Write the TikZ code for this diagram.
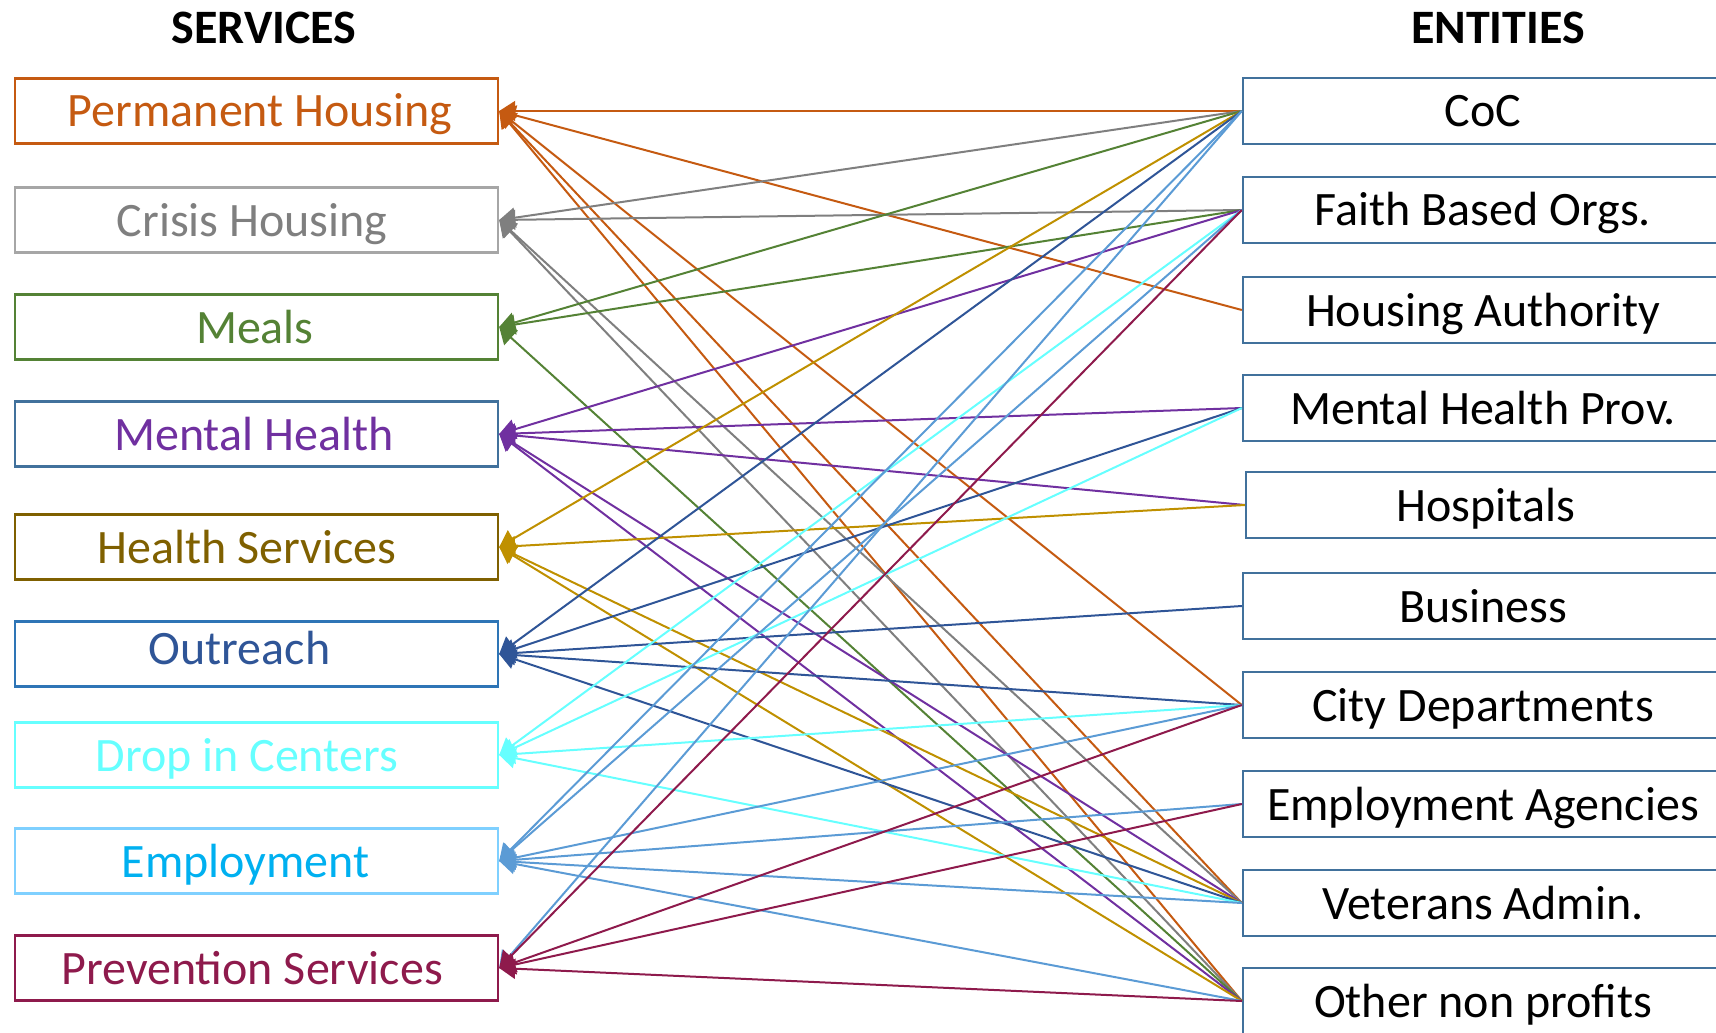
\documentclass[tikz,border=0pt]{standalone}
\usepackage{fontspec}
\setmainfont{Carlito}
\usetikzlibrary{arrows.meta}

\definecolor{phorange}{HTML}{C55A11}
\definecolor{chgray}{HTML}{7F7F7F}
\definecolor{chborder}{HTML}{A6A6A6}
\definecolor{mealgreen}{HTML}{548235}
\definecolor{mhpurple}{HTML}{7030A0}
\definecolor{mhborder}{HTML}{41719C}
\definecolor{hsbrown}{HTML}{7F6000}
\definecolor{hsgold}{HTML}{BF9000}
\definecolor{orblue}{HTML}{2F5597}
\definecolor{orborder}{HTML}{2E75B6}
\definecolor{dropcyan}{HTML}{66FFFF}
\definecolor{emptext}{HTML}{00B0F0}
\definecolor{empborder}{HTML}{7FD0FF}
\definecolor{empline}{HTML}{5B9BD5}
\definecolor{prevred}{HTML}{8E1A4C}
\definecolor{entblue}{HTML}{41719C}

\tikzset{
  svc/.style={draw, line width=1.2pt, minimum width=241.5pt, minimum height=32.5pt,
    inner sep=0pt, text height=17pt, text depth=1pt, font=\fontsize{24}{28}\selectfont},
  ent/.style={draw=entblue, line width=1.2pt, minimum width=240pt, minimum height=33pt,
    inner sep=0pt, text height=17pt, text depth=1pt, text=black, font=\fontsize{24}{28}\selectfont},
  head/.style={font=\fontsize{24}{28}\selectfont\bfseries},
  link/.style={line width=1pt, -{Triangle[length=8pt,width=10pt]}}
}

\begin{document}
\begin{tikzpicture}[x=0.5pt,y=-0.5pt]
\useasboundingbox (0,0) rectangle (1716,1032);
\clip (0,0) rectangle (1716,1032);

% headings
\node[head] (svchead) at (264,28) {SERVICES};
\node[head] (enthead) at (1498,28) {ENTITIES};

% services
\node[svc, draw=phorange, text=phorange] (ph) at (256.5,111) {\hspace*{3.8pt}Permanent Housing};
\node[svc, draw=chborder, text=chgray] (ch) at (256.5,220) {Crisis Housing\hspace*{4.4pt}};
\node[svc, draw=mealgreen, text=mealgreen] (meals) at (256.5,327) {Meals\hspace*{1.6pt}};
\node[svc, draw=mhborder, text=mhpurple] (mh) at (256.5,434) {Mental Health\hspace*{2.7pt}};
\node[svc, draw=hsbrown, text=hsbrown] (hs) at (256.5,547) {Health Services\hspace*{9.3pt}};
\node[svc, draw=orborder, text=orblue, text depth=6.5pt] (outr) at (256.5,654) {Outreach\hspace*{17pt}};
\node[svc, draw=dropcyan, text=dropcyan] (drop) at (256.5,755) {Drop in Centers\hspace*{9.8pt}};
\node[svc, draw=empborder, text=emptext] (emp) at (256.5,861) {Employment\hspace*{10.9pt}};
\node[svc, draw=prevred, text=prevred] (prev) at (256.5,968) {Prevention Services\hspace*{4.4pt}};

% entities
\node[ent] (coc) at (1483,111) {CoC};
\node[ent] (fbo) at (1483,210) {Faith Based Orgs.};
\node[ent] (ha) at (1483,310) {Housing Authority};
\node[ent] (mhp) at (1483,408) {Mental Health Prov.};
\node[ent] (hosp) at (1486,505) {Hospitals};
\node[ent] (bus) at (1483,606) {Business};
\node[ent] (city) at (1483,705) {City Departments};
\node[ent] (empag) at (1483,804) {Employment Agencies};
\node[ent] (va) at (1483,903) {Veterans Admin.};
\node[ent] (onp) at (1483,1001) {Other non profits};

% links, entity -> service
\foreach \e in {coc,ha,city,va,onp} \draw[link, phorange] (\e.west) -- (ph.east);
\foreach \e in {coc,fbo,va,onp} \draw[link, chgray] (\e.west) -- (ch.east);
\foreach \e in {coc,fbo,onp} \draw[link, mealgreen] (\e.west) -- (meals.east);
\foreach \e in {fbo,mhp,hosp,va,onp} \draw[link, mhpurple] (\e.west) -- (mh.east);
\foreach \e in {coc,hosp,va,onp} \draw[link, hsgold] (\e.west) -- (hs.east);
\foreach \e in {coc,mhp,bus,city,va} \draw[link, orblue] (\e.west) -- (outr.east);
\foreach \e in {fbo,mhp,city,va} \draw[link, dropcyan] (\e.west) -- (drop.east);
\foreach \e in {coc,fbo,city,empag,va,onp} \draw[link, empline] (\e.west) -- (emp.east);
\draw[link, empline] (coc.west) -- (prev.east);
\foreach \e in {fbo,city,empag,onp} \draw[link, prevred] (\e.west) -- (prev.east);
\end{tikzpicture}
\end{document}
